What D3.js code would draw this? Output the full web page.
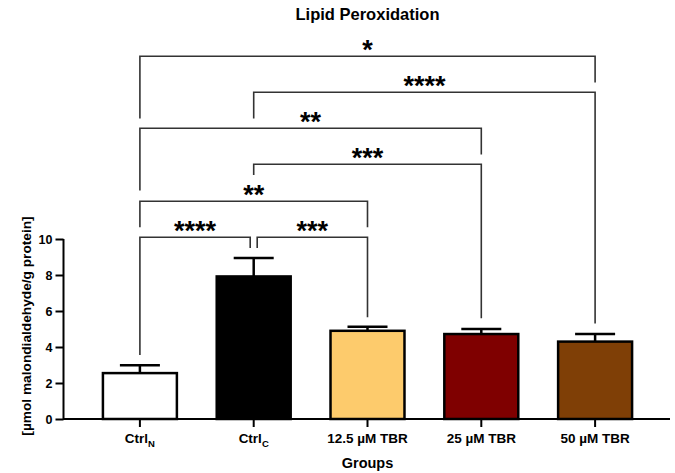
<!DOCTYPE html>
<html lang="en">
<head>
<meta charset="utf-8">
<title>Lipid Peroxidation</title>
<script src="https://cdn.jsdelivr.net/npm/d3@7"></script>
<style>
  body { margin: 0; background: #fff; }
  text { font-family: "Liberation Sans", Arial, sans-serif; font-weight: bold; fill: #000; }
  .axis path, .axis line { stroke: #000; stroke-width: 2; fill: none; }
  .bracket { stroke: #333; stroke-width: 1.6; fill: none; }
</style>
</head>
<body>
<script>
// groups and values
var groups = ["CtrlN", "CtrlC", "12.5 µM TBR", "25 µM TBR", "50 µM TBR"];
var means  = [2.55, 7.92, 4.9, 4.72, 4.3];
var sds    = [0.43, 1.02, 0.22, 0.28, 0.42];
var yTicks = [0, 2, 4, 6, 8, 10];
var barColors = ["#ffffff", "#000000", "#fdcb6c", "#7f0000", "#7f3f06"];

// significance brackets: from group, to group, label, level, left leg end, right leg end
var cmpFrom   = [0, 1, 0, 1, 0, 1, 0];
var cmpTo     = [1, 2, 2, 3, 3, 4, 4];
var cmpLabel  = ["****", "***", "**", "***", "**", "****", "*"];
var cmpLevel  = [10.1, 10.1, 12.1, 14.15, 16.15, 18.15, 20.15];
var cmpLeftEnd  = [3.55, 9.5, 10.65, 13.55, 12.7, 16.7, 16.7];
var cmpRightEnd = [9.5, 5.65, 10.65, 5.6, 14.7, 5.3, 18.7];

var width = 675, height = 473;
var svg = d3.select("body").append("svg")
    .attr("width", width)
    .attr("height", height);

var x = d3.scaleBand()
    .domain(groups)
    .range([83, 652])
    .paddingInner(0.35)
    .paddingOuter(0.175);

var y = d3.scaleLinear()
    .domain([0, 10])
    .range([419, 239]);

var cx = function(i) { return x(groups[i]) + x.bandwidth() / 2; };

// title
svg.append("text")
    .attr("x", 367.5)
    .attr("y", 20)
    .attr("text-anchor", "middle")
    .style("font-size", "16.5px")
    .text("Lipid Peroxidation");

// bars
svg.selectAll(".bar")
    .data(groups)
    .enter().append("rect")
    .attr("class", "bar")
    .attr("x", function(d) { return x(d); })
    .attr("width", x.bandwidth())
    .attr("y", function(d, i) { return y(means[i]); })
    .attr("height", function(d, i) { return y(0) - y(means[i]); })
    .attr("fill", function(d, i) { return barColors[i]; })
    .attr("stroke", "#000")
    .attr("stroke-width", 2.5);

// error bars (upper only)
var err = svg.append("g").attr("stroke", "#000").attr("stroke-width", 2.5);
groups.forEach(function(g, i) {
  err.append("line")
      .attr("x1", cx(i)).attr("x2", cx(i))
      .attr("y1", y(means[i])).attr("y2", y(means[i] + sds[i]));
  err.append("line")
      .attr("x1", cx(i) - 20).attr("x2", cx(i) + 20)
      .attr("y1", y(means[i] + sds[i])).attr("y2", y(means[i] + sds[i]));
});

// y axis
var yAxis = svg.append("g")
    .attr("class", "axis")
    .attr("transform", "translate(63.5,0)")
    .call(d3.axisLeft(y).tickValues(yTicks).tickSize(8).tickSizeOuter(0).tickPadding(3));
yAxis.selectAll("text").style("font-size", "12.5px");
yAxis.select(".domain").attr("d", "M0," + y(10) + "V" + (y(0) + 1));

// x axis
var xAxis = svg.append("g")
    .attr("class", "axis")
    .attr("transform", "translate(0," + y(0) + ")")
    .call(d3.axisBottom(x).tickSize(8).tickSizeOuter(0).tickFormat(""));
xAxis.select(".domain").attr("d", "M63.5,0H670");

// x tick labels with subscripts
groups.forEach(function(g, i) {
  var t = svg.append("text")
      .attr("x", cx(i))
      .attr("y", 443)
      .attr("text-anchor", "middle")
      .style("font-size", "13.5px");
  if (g.indexOf("Ctrl") === 0) {
    t.append("tspan").text("Ctrl");
    t.append("tspan").attr("dy", 4).style("font-size", "9.5px").text(g.slice(4));
  } else {
    t.text(g);
  }
});

// axis titles
svg.append("text")
    .attr("x", 367.5)
    .attr("y", 468)
    .attr("text-anchor", "middle")
    .style("font-size", "14.5px")
    .text("Groups");

svg.append("text")
    .attr("transform", "translate(31,326) rotate(-90)")
    .attr("text-anchor", "middle")
    .style("font-size", "13.7px")
    .text("[µmol malondialdehyde/g protein]");

// significance brackets
cmpLabel.forEach(function(lab, k) {
  var x1 = cx(cmpFrom[k]), x2 = cx(cmpTo[k]);
  // brackets sharing a level and an end point get a small gap
  cmpLabel.forEach(function(l2, j) {
    if (j === k || cmpLevel[j] !== cmpLevel[k]) return;
    if (cmpTo[j] === cmpFrom[k]) x1 += 3.5;
    if (cmpFrom[j] === cmpTo[k]) x2 -= 3.5;
  });
  var yl = y(cmpLevel[k]);
  svg.append("path")
      .attr("class", "bracket")
      .attr("d", "M" + x1 + "," + y(cmpLeftEnd[k]) + "V" + yl + "H" + x2 + "V" + y(cmpRightEnd[k]));
  svg.append("text")
      .attr("x", (x1 + x2) / 2)
      .attr("y", yl + 3)
      .attr("text-anchor", "middle")
      .style("font-size", "27px")
      .text(lab);
});
</script>
</body>
</html>
